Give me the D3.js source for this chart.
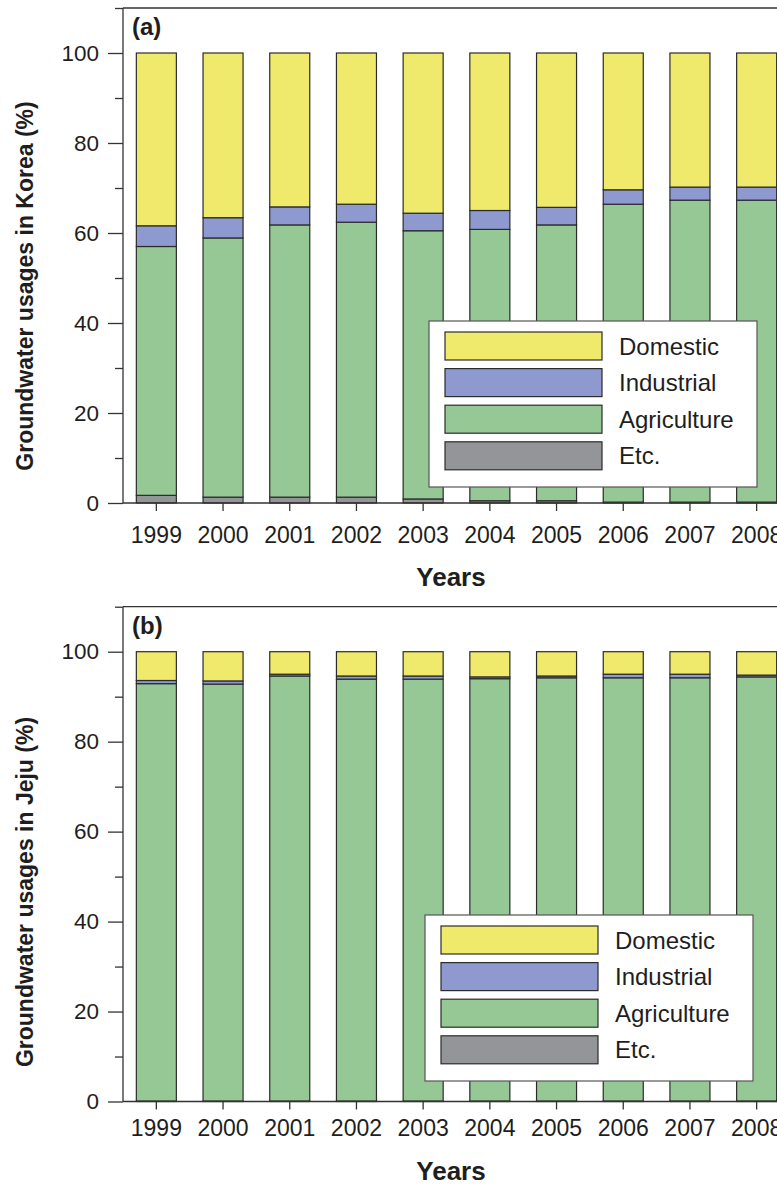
<!DOCTYPE html>
<html>
<head>
<meta charset="utf-8">
<script src="https://cdn.jsdelivr.net/npm/d3@7"></script>
<style>
  html, body { margin: 0; padding: 0; background: #fff; }
  svg { display: block; font-family: "Liberation Sans", Arial, sans-serif; }
</style>
</head>
<body>
<svg id="chart" width="777" height="1187"></svg>
<script>
// Years on the x axis
const years = ["1999", "2000", "2001", "2002", "2003", "2004", "2005", "2006", "2007", "2008"];

// Groundwater usage shares in Korea (%)
const koreaDomestic    = [38.4, 36.6, 34.2, 33.6, 35.6, 35.0, 34.3, 30.4, 29.8, 29.8];
const koreaIndustrial  = [4.6, 4.5, 4.0, 4.0, 3.9, 4.2, 3.9, 3.2, 2.9, 2.9];
const koreaAgriculture = [55.3, 57.6, 60.5, 61.1, 59.6, 60.3, 61.3, 66.2, 67.1, 67.1];
const koreaEtc         = [1.7, 1.3, 1.3, 1.3, 0.9, 0.5, 0.5, 0.2, 0.2, 0.2];

// Groundwater usage shares in Jeju (%)
const jejuDomestic    = [6.4, 6.5, 5.0, 5.4, 5.4, 5.6, 5.4, 5.0, 5.0, 5.2];
const jejuIndustrial  = [0.7, 0.7, 0.4, 0.7, 0.7, 0.4, 0.4, 0.8, 0.8, 0.4];
const jejuAgriculture = [92.8, 92.7, 94.5, 93.8, 93.8, 93.9, 94.1, 94.1, 94.1, 94.3];
const jejuEtc         = [0.1, 0.1, 0.1, 0.1, 0.1, 0.1, 0.1, 0.1, 0.1, 0.1];

// Legend entries (top to bottom) and axis ticks
const legendNames = ["Domestic", "Industrial", "Agriculture", "Etc."];
const stackKeys   = ["Etc.", "Agriculture", "Industrial", "Domestic"];
const majorTicks  = [0, 20, 40, 60, 80, 100];
const minorTicks  = [10, 30, 50, 70, 90, 110];

const color = d3.scaleOrdinal()
  .domain(["Domestic", "Industrial", "Agriculture", "Etc."])
  .range(["#efea6b", "#8e9acf", "#96c896", "#939598"]);

const svg = d3.select("#chart");
svg.append("rect").attr("width", 777).attr("height", 1187).attr("fill", "#fff");

function buildRows(dom, ind, agr, etc) {
  return years.map((yr, i) => ({
    year: yr,
    "Domestic": dom[i],
    "Industrial": ind[i],
    "Agriculture": agr[i],
    "Etc.": etc[i]
  }));
}

function drawPanel(cfg) {
  const g = svg.append("g");
  const left = 123;
  const right = 777;

  const x = d3.scaleBand()
    .domain(years)
    .range([left, left + 667])
    .paddingInner(0.4)
    .paddingOuter(0.2);

  const y = d3.scaleLinear()
    .domain([0, 110])
    .range([cfg.y0, cfg.y0 - 110 * cfg.pxPerUnit]);

  const rows = buildRows(...cfg.series);
  const stacked = d3.stack().keys(stackKeys)(rows);

  // stacked bars
  const layers = g.append("g").selectAll("g")
    .data(stacked)
    .join("g")
    .attr("fill", d => color(d.key));

  layers.selectAll("rect")
    .data(d => d)
    .join("rect")
    .attr("x", d => x(d.data.year))
    .attr("width", x.bandwidth())
    .attr("y", d => y(d[1]))
    .attr("height", d => y(d[0]) - y(d[1]))
    .attr("stroke", "#2b2b2b")
    .attr("stroke-width", 1.2);

  // frame: top border
  g.append("line")
    .attr("x1", left).attr("x2", right)
    .attr("y1", y(110)).attr("y2", y(110))
    .attr("stroke", "#333").attr("stroke-width", 1.3);

  // y axis, minor ticks
  g.append("g")
    .attr("transform", `translate(${left},0)`)
    .call(d3.axisLeft(y).tickValues(minorTicks).tickSize(8).tickSizeOuter(0).tickFormat(""))
    .call(a => a.select(".domain").remove())
    .call(a => a.selectAll("line").attr("stroke", "#333").attr("stroke-width", 1.3));

  // y axis, major ticks with labels
  g.append("g")
    .attr("transform", `translate(${left},0)`)
    .call(d3.axisLeft(y).tickValues(majorTicks).tickSize(15).tickSizeOuter(0).tickPadding(9))
    .call(a => a.select(".domain").attr("d", `M0,${y(110)}V${y(0)}`).attr("stroke", "#333").attr("stroke-width", 1.3))
    .call(a => a.selectAll("line").attr("stroke", "#333").attr("stroke-width", 1.3))
    .call(a => a.selectAll("text")
      .attr("font-size", 22.5)
      .attr("font-family", "'Liberation Sans', Arial, sans-serif")
      .attr("fill", "#1e1e1e"));

  // x axis
  g.append("g")
    .attr("transform", `translate(0,${y(0)})`)
    .call(d3.axisBottom(x).tickSize(8).tickSizeOuter(0).tickPadding(cfg.xLabelPad))
    .call(a => a.select(".domain").attr("d", `M${left},0H${right}`).attr("stroke", "#333").attr("stroke-width", 1.3))
    .call(a => a.selectAll("line").attr("stroke", "#333").attr("stroke-width", 1.3))
    .call(a => a.selectAll("text")
      .attr("font-size", 23)
      .attr("font-family", "'Liberation Sans', Arial, sans-serif")
      .attr("fill", "#1e1e1e"));

  // panel tag
  g.append("text")
    .attr("x", 132).attr("y", cfg.tagY)
    .attr("font-size", 24).attr("font-weight", "bold").attr("fill", "#1e1e1e")
    .text(cfg.tag);

  // axis titles
  g.append("text")
    .attr("x", 451).attr("y", cfg.xTitleY)
    .attr("text-anchor", "middle")
    .attr("font-size", 26).attr("font-weight", "bold").attr("fill", "#1e1e1e")
    .text("Years");

  g.append("text")
    .attr("transform", `translate(33,${cfg.yTitleCenter}) rotate(-90)`)
    .attr("text-anchor", "middle")
    .attr("font-size", 23).attr("font-weight", "bold").attr("fill", "#1e1e1e")
    .text(cfg.yTitle);

  // legend
  const lg = g.append("g").attr("transform", `translate(${cfg.legend[0]},${cfg.legend[1]})`);
  lg.append("rect")
    .attr("width", 328).attr("height", 166)
    .attr("fill", "#fff").attr("stroke", "#555").attr("stroke-width", 1.2);
  const item = lg.selectAll("g.item")
    .data(legendNames)
    .join("g")
    .attr("class", "item")
    .attr("transform", (d, i) => `translate(16,${11 + i * 36.6})`);
  item.append("rect")
    .attr("width", 157).attr("height", 28)
    .attr("fill", d => color(d))
    .attr("stroke", "#2b2b2b").attr("stroke-width", 1.2);
  item.append("text")
    .attr("x", 174).attr("y", 14).attr("dy", "0.36em")
    .attr("font-size", 24).attr("fill", "#1e1e1e")
    .text(d => d);
}

drawPanel({
  y0: 503, pxPerUnit: 4.5,
  series: [koreaDomestic, koreaIndustrial, koreaAgriculture, koreaEtc],
  tag: "(a)", tagY: 35,
  xLabelPad: 16, xTitleY: 586,
  yTitle: "Groundwater usages in Korea (%)", yTitleCenter: 286,
  legend: [429, 321]
});

drawPanel({
  y0: 1101.5, pxPerUnit: 4.498,
  series: [jejuDomestic, jejuIndustrial, jejuAgriculture, jejuEtc],
  tag: "(b)", tagY: 634,
  xLabelPad: 10, xTitleY: 1180,
  yTitle: "Groundwater usages in Jeju (%)", yTitleCenter: 892,
  legend: [425, 915]
});
</script>
</body>
</html>
